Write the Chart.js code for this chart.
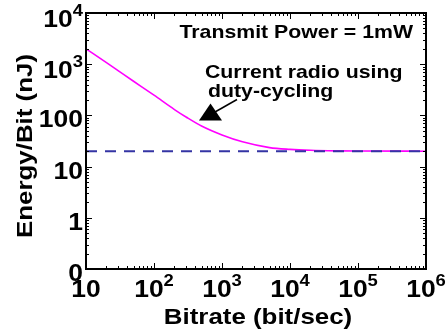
<!DOCTYPE html>
<html>
<head>
<meta charset="utf-8">
<script src="https://cdn.jsdelivr.net/npm/chart.js@4.4.0/dist/chart.umd.min.js"></script>
<style>
  html, body { margin: 0; padding: 0; background: #fff; }
  canvas { display: block; }
</style>
</head>
<body>
<canvas id="energyChart" width="446" height="334"></canvas>
<script>
// Values
const bitrate = [10, 20, 30, 50, 100, 200, 300, 500, 1000, 2000, 5000, 1e4, 2e4, 5e4, 1e5, 1e6];
const dutyCycleEnergy = [2000, 1070, 740, 465, 248, 130, 92, 62, 41.5, 30.5, 23.5, 21.7, 20.8, 20.3, 20.15, 20];
const baselineBitrate = [10, 1e6];
const baselineEnergy = [20, 20];

// Tick labels (base + superscript)
const xTickValues = [10, 1e2, 1e3, 1e4, 1e5, 1e6];
const xTickBase = ['10', '10', '10', '10', '10', '10'];
const xTickExp = ['', '2', '3', '4', '5', '6'];
const yTickValues = [0.1, 1, 10, 100, 1e3, 1e4];
const yTickBase = ['0', '1', '10', '100', '10', '10'];
const yTickExp = ['', '', '', '', '3', '4'];

const FONT = "'Liberation Sans', Arial, Helvetica, sans-serif";
const STRETCH = 1.15; // text in the figure is wider than plain Arial

function textWidth(ctx, text, font) {
    ctx.font = font;
    return ctx.measureText(text).width * STRETCH;
}

function drawText(ctx, text, x, y, font) {
    ctx.save();
    ctx.font = font;
    ctx.textBaseline = 'alphabetic';
    ctx.textAlign = 'left';
    ctx.translate(x, y);
    ctx.scale(STRETCH, 1);
    ctx.fillText(text, 0, 0);
    ctx.restore();
}

// Framed axes with inward ticks, superscript labels, titles and notes
const framePlugin = {
    id: 'frame',
    afterDraw(chart) {
        const ctx = chart.ctx;
        const area = chart.chartArea;
        const xs = chart.scales.x;
        const ys = chart.scales.y;
        const baseFont = 'bold 23px ' + FONT;
        const expFont = 'bold 16px ' + FONT;

        ctx.save();
        ctx.strokeStyle = '#000';
        ctx.fillStyle = '#000';

        // box
        ctx.lineWidth = 2;
        ctx.strokeRect(area.left, area.top, area.right - area.left, area.bottom - area.top);

        // ticks
        ctx.lineWidth = 1;
        ctx.beginPath();
        for (let d = 1; d <= 6; d++) {
            for (let m = 1; m <= 9; m++) {
                const v = m * Math.pow(10, d);
                if (v > 1e6) break;
                const px = Math.round(xs.getPixelForValue(v)) + 0.5;
                const len = m === 1 ? 6 : 3;
                ctx.moveTo(px, area.bottom); ctx.lineTo(px, area.bottom - len);
                ctx.moveTo(px, area.top); ctx.lineTo(px, area.top + len);
            }
        }
        for (let d = -1; d <= 4; d++) {
            for (let m = 1; m <= 9; m++) {
                const v = m * Math.pow(10, d);
                if (v > 1e4) break;
                const py = Math.round(ys.getPixelForValue(v)) + 0.5;
                const len = m === 1 ? 6 : 3;
                ctx.moveTo(area.left, py); ctx.lineTo(area.left + len, py);
                ctx.moveTo(area.right, py); ctx.lineTo(area.right - len, py);
            }
        }
        ctx.stroke();

        // x tick labels
        xTickValues.forEach((v, i) => {
            const px = xs.getPixelForValue(v);
            const wb = textWidth(ctx, xTickBase[i], baseFont);
            const we = xTickExp[i] ? textWidth(ctx, xTickExp[i], expFont) : 0;
            const x0 = px - (wb + we) / 2;
            drawText(ctx, xTickBase[i], x0, 297, baseFont);
            if (xTickExp[i]) drawText(ctx, xTickExp[i], x0 + wb, 286, expFont);
        });

        // y tick labels
        yTickValues.forEach((v, i) => {
            const py = ys.getPixelForValue(v);
            const wb = textWidth(ctx, yTickBase[i], baseFont);
            const we = yTickExp[i] ? textWidth(ctx, yTickExp[i], expFont) : 0;
            const x0 = 83 - wb - we;
            if (yTickExp[i]) {
                drawText(ctx, yTickBase[i], x0, py + 14, baseFont);
                drawText(ctx, yTickExp[i], x0 + wb, py + 3, expFont);
            } else {
                drawText(ctx, yTickBase[i], x0, py + 12, baseFont);
            }
        });

        // axis titles
        const titleFont = 'bold 22.5px ' + FONT;
        const xt = 'Bitrate (bit/sec)';
        drawText(ctx, xt, 258 - textWidth(ctx, xt, titleFont) / 2, 324, titleFont);
        const yt = 'Energy/Bit (nJ)';
        ctx.save();
        ctx.translate(32, 146);
        ctx.rotate(-Math.PI / 2);
        drawText(ctx, yt, -textWidth(ctx, yt, titleFont) / 2, 0, titleFont);
        ctx.restore();

        // notes
        const noteFont = 'bold 18.5px ' + FONT;
        const tp = 'Transmit Power = 1mW';
        drawText(ctx, tp, 413 - textWidth(ctx, tp, noteFont), 38, noteFont);
        const labelFont = 'bold 18.5px ' + FONT;
        drawText(ctx, 'Current radio using', 205, 78, labelFont);
        drawText(ctx, 'duty-cycling', 208, 97, labelFont);

        // pointer triangle + line
        ctx.beginPath();
        ctx.moveTo(210.5, 103.5);
        ctx.lineTo(199, 120.5);
        ctx.lineTo(222, 120.5);
        ctx.closePath();
        ctx.fill();
        ctx.lineWidth = 1.5;
        ctx.beginPath();
        ctx.moveTo(215, 112);
        ctx.lineTo(237, 99.5);
        ctx.stroke();

        ctx.restore();
    }
};

const ctxE = document.getElementById('energyChart').getContext('2d');
const energyChart = new Chart(ctxE, {
    type: 'line',
    data: {
        datasets: [
            {
                label: 'Baseline',
                data: baselineBitrate.map((b, i) => ({ x: b, y: baselineEnergy[i] })),
                borderColor: '#3434a4',
                borderWidth: 2,
                borderDash: [11, 8],
                pointRadius: 0,
                order: 0
            },
            {
                label: 'Current radio using duty-cycling',
                data: bitrate.map((b, i) => ({ x: b, y: dutyCycleEnergy[i] })),
                borderColor: '#ff00ff',
                borderWidth: 1.6,
                pointRadius: 0,
                cubicInterpolationMode: 'monotone',
                order: 1
            }
        ]
    },
    options: {
        responsive: false,
        animation: false,
        devicePixelRatio: 1,
        layout: { padding: { left: 86, right: 20, top: 13, bottom: 65 } },
        plugins: { legend: { display: false }, tooltip: { enabled: false } },
        scales: {
            x: { type: 'logarithmic', min: 10, max: 1e6, display: false },
            y: { type: 'logarithmic', min: 0.1, max: 1e4, display: false }
        }
    },
    plugins: [framePlugin]
});
</script>
</body>
</html>
